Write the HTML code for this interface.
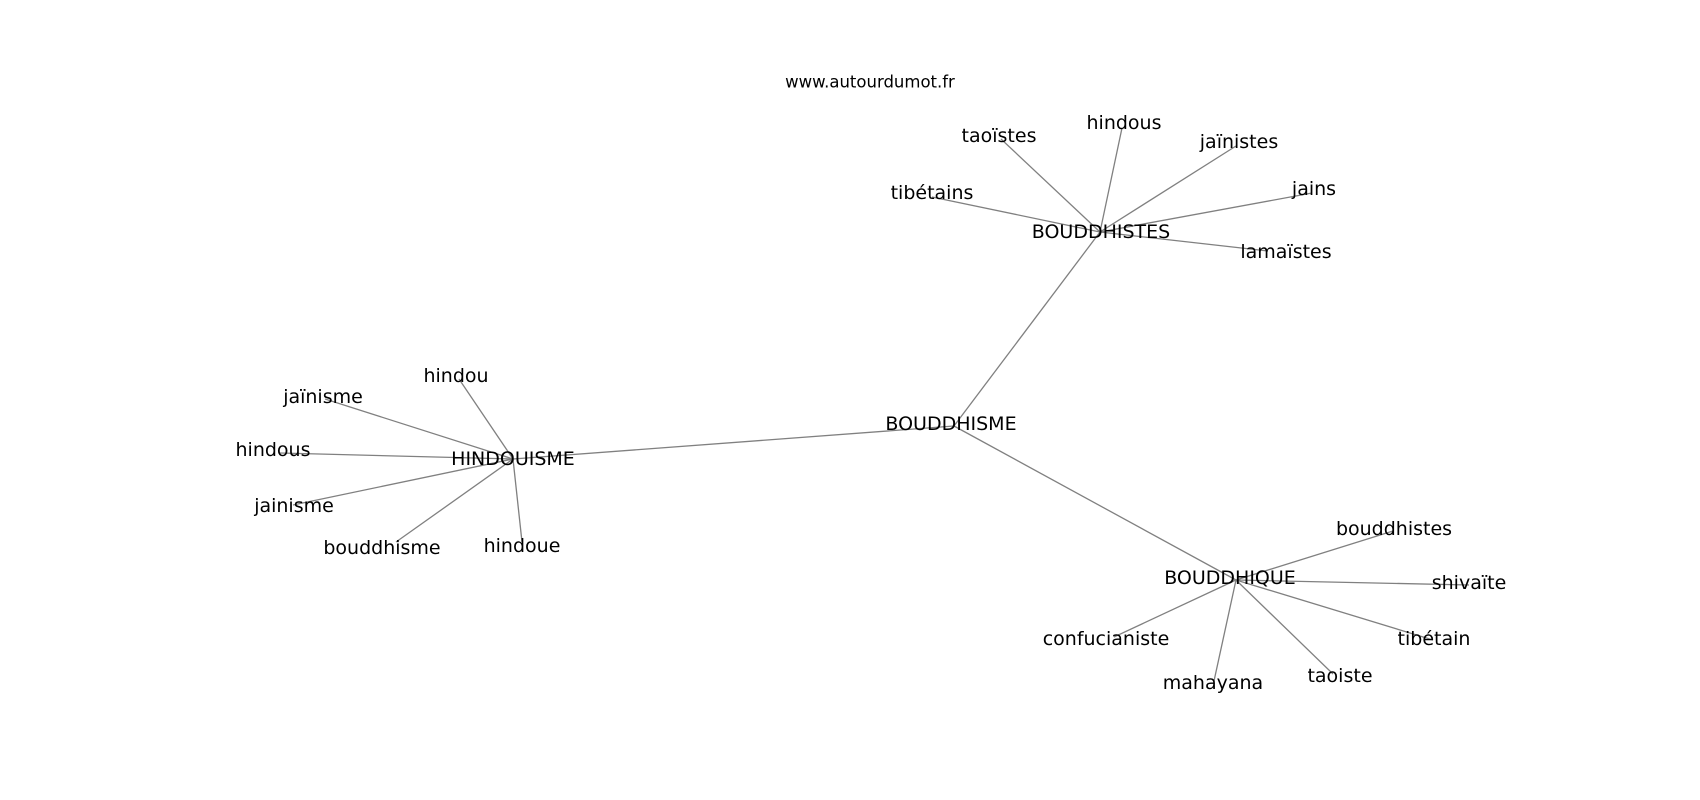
<!DOCTYPE html>
<html><head><meta charset="utf-8"><style>html,body{margin:0;padding:0;background:#fff}svg{display:block}text{font-family:"DejaVu Sans","Liberation Sans",sans-serif;fill:#000}</style></head>
<body>
<svg width="1700" height="800" viewBox="0 0 1700 800" xmlns="http://www.w3.org/2000/svg">
<g stroke="#808080" stroke-width="1.3" fill="none">
<line x1="954" y1="426" x2="513" y2="459"/>
<line x1="954" y1="426" x2="1100" y2="232"/>
<line x1="954" y1="426" x2="1236" y2="580"/>
<line x1="1100" y1="232" x2="1001" y2="139"/>
<line x1="1100" y1="232" x2="1122" y2="128"/>
<line x1="1100" y1="232" x2="1236" y2="146"/>
<line x1="1100" y1="232" x2="1312" y2="193"/>
<line x1="1100" y1="232" x2="1268" y2="251"/>
<line x1="1100" y1="232" x2="932" y2="197"/>
<line x1="513" y1="459" x2="459" y2="379"/>
<line x1="513" y1="459" x2="325" y2="399"/>
<line x1="513" y1="459" x2="280" y2="453"/>
<line x1="513" y1="459" x2="293" y2="505"/>
<line x1="513" y1="459" x2="396" y2="542"/>
<line x1="513" y1="459" x2="522" y2="542"/>
<line x1="1236" y1="580" x2="1393" y2="531"/>
<line x1="1236" y1="580" x2="1469" y2="585"/>
<line x1="1236" y1="580" x2="1433" y2="640"/>
<line x1="1236" y1="580" x2="1333" y2="674"/>
<line x1="1236" y1="580" x2="1214" y2="681"/>
<line x1="1236" y1="580" x2="1114" y2="637"/>
</g>
<g font-size="19" text-anchor="middle" dominant-baseline="central">
<text x="870" y="82" font-size="16.5">www.autourdumot.fr</text>
<text x="951" y="424">BOUDDHISME</text>
<text x="513" y="459">HINDOUISME</text>
<text x="1101" y="232">BOUDDHISTES</text>
<text x="1230" y="578">BOUDDHIQUE</text>
<text x="999" y="136">taoïstes</text>
<text x="1124" y="123">hindous</text>
<text x="1239" y="142">jaïnistes</text>
<text x="1314" y="189">jains</text>
<text x="1286" y="252">lamaïstes</text>
<text x="932" y="193">tibétains</text>
<text x="456" y="376">hindou</text>
<text x="323" y="397">jaïnisme</text>
<text x="273" y="450">hindous</text>
<text x="294" y="506">jainisme</text>
<text x="382" y="548">bouddhisme</text>
<text x="522" y="546">hindoue</text>
<text x="1394" y="529">bouddhistes</text>
<text x="1469" y="583">shivaïte</text>
<text x="1434" y="639">tibétain</text>
<text x="1340" y="676">taoiste</text>
<text x="1213" y="683">mahayana</text>
<text x="1106" y="639">confucianiste</text>
</g>
</svg>
</body></html>
